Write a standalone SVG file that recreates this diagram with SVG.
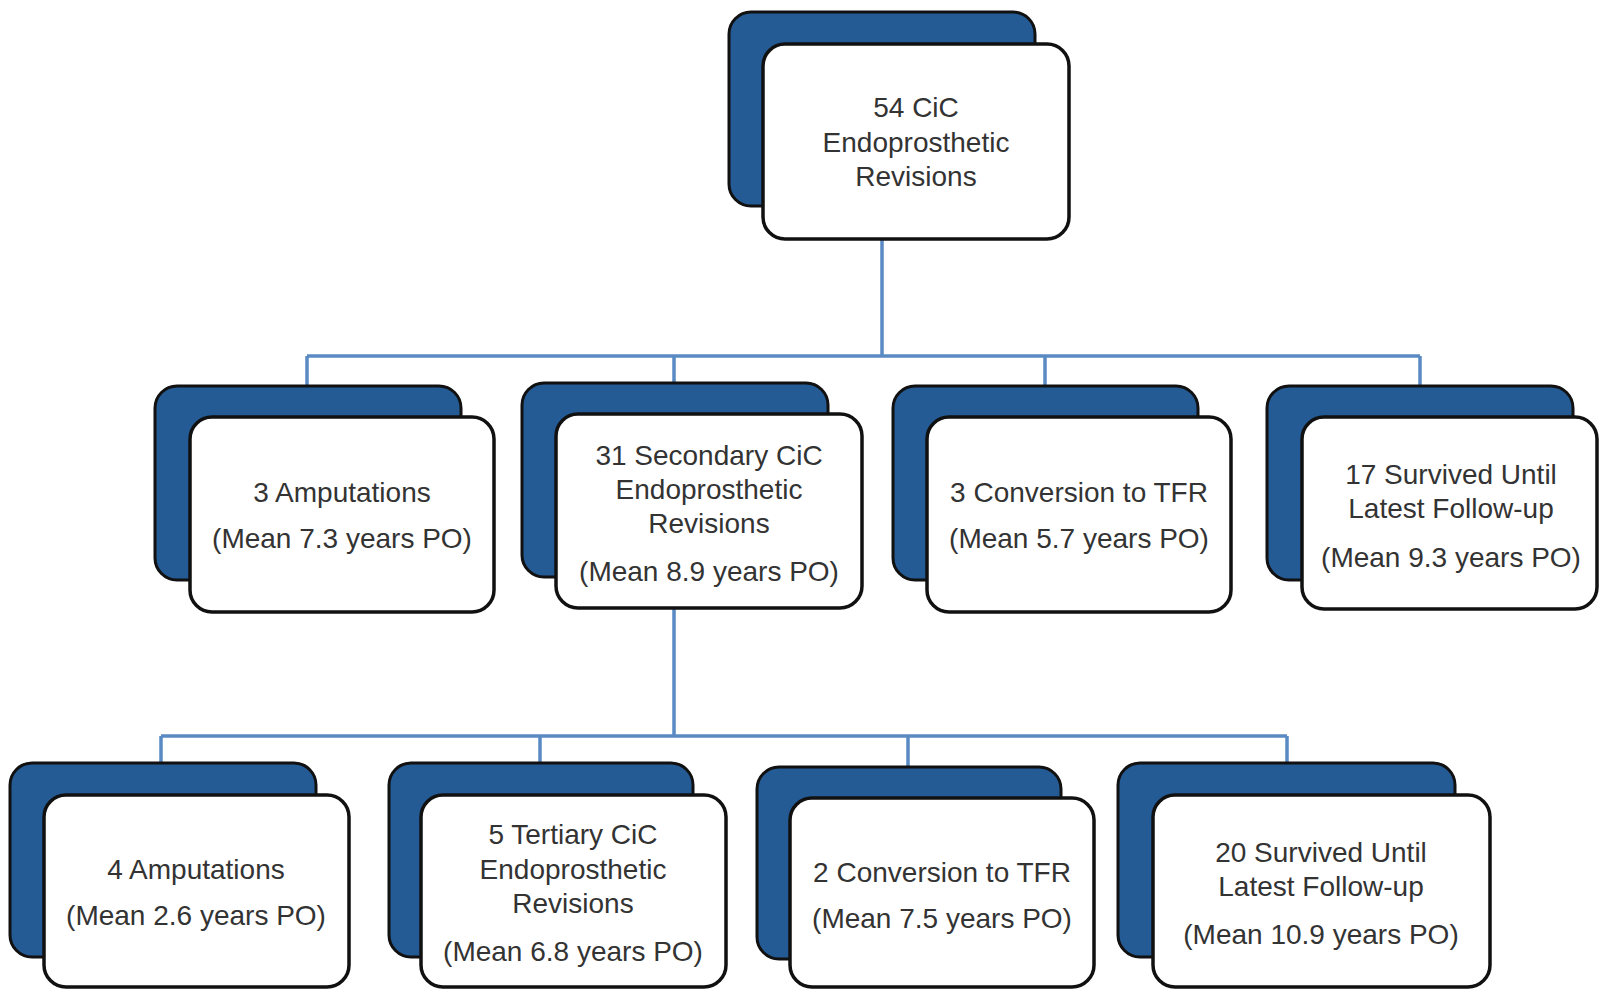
<svg xmlns="http://www.w3.org/2000/svg" width="1599" height="992" viewBox="0 0 1599 992">
<style>
.back{fill:#245b95;stroke:#111;stroke-width:3}
.front{fill:#fff;stroke:#111;stroke-width:3.5}
.conn{fill:none;stroke:#5a8ac4;stroke-width:3.5}
text{font-family:"Liberation Sans",Arial,sans-serif;font-size:28px;fill:#333;text-anchor:middle}
</style>
<rect width="1599" height="992" fill="#fff"/>
<g id="connectors">
<path class="conn" d="M882 240V356M307 356H1420M307 356V386M674 356V383M1045 356V386M1420 356V386"/>
<path class="conn" d="M674 608V736M161 736H1287M161 736V763M540 736V763M908 736V767M1287 736V763"/>
</g>
<g id="n0">
<rect class="back" x="729" y="12" width="306" height="194" rx="22"/>
<rect class="front" x="763" y="44" width="306" height="195" rx="22"/>
<text x="916" y="117">54 CiC</text>
<text x="916" y="152">Endoprosthetic</text>
<text x="916" y="186">Revisions</text>
</g>
<g id="n1">
<rect class="back" x="155" y="386" width="306" height="194" rx="22"/>
<rect class="front" x="190" y="417" width="304" height="195" rx="22"/>
<text x="342" y="502">3 Amputations</text>
<text x="342" y="548">(Mean 7.3 years PO)</text>
</g>
<g id="n2">
<rect class="back" x="522" y="383" width="306" height="194" rx="22"/>
<rect class="front" x="556" y="414" width="306" height="194" rx="22"/>
<text x="709" y="465">31 Secondary CiC</text>
<text x="709" y="499">Endoprosthetic</text>
<text x="709" y="533">Revisions</text>
<text x="709" y="581">(Mean 8.9 years PO)</text>
</g>
<g id="n3">
<rect class="back" x="893" y="386" width="305" height="194" rx="22"/>
<rect class="front" x="927" y="417" width="304" height="195" rx="22"/>
<text x="1079" y="502">3 Conversion to TFR</text>
<text x="1079" y="548">(Mean 5.7 years PO)</text>
</g>
<g id="n4">
<rect class="back" x="1267" y="386" width="306" height="194" rx="22"/>
<rect class="front" x="1302" y="417" width="295" height="192" rx="22"/>
<text x="1451" y="484">17 Survived Until</text>
<text x="1451" y="518">Latest Follow-up</text>
<text x="1451" y="567">(Mean 9.3 years PO)</text>
</g>
<g id="n5">
<rect class="back" x="10" y="763" width="306" height="194" rx="22"/>
<rect class="front" x="44" y="795" width="305" height="192" rx="22"/>
<text x="196" y="879">4 Amputations</text>
<text x="196" y="925">(Mean 2.6 years PO)</text>
</g>
<g id="n6">
<rect class="back" x="389" y="763" width="304" height="194" rx="22"/>
<rect class="front" x="421" y="795" width="305" height="192" rx="22"/>
<text x="573" y="844">5 Tertiary CiC</text>
<text x="573" y="879">Endoprosthetic</text>
<text x="573" y="913">Revisions</text>
<text x="573" y="961">(Mean 6.8 years PO)</text>
</g>
<g id="n7">
<rect class="back" x="757" y="767" width="304" height="192" rx="22"/>
<rect class="front" x="790" y="798" width="304" height="189" rx="22"/>
<text x="942" y="882">2 Conversion to TFR</text>
<text x="942" y="928">(Mean 7.5 years PO)</text>
</g>
<g id="n8">
<rect class="back" x="1118" y="763" width="337" height="194" rx="22"/>
<rect class="front" x="1153" y="795" width="337" height="192" rx="22"/>
<text x="1321" y="862">20 Survived Until</text>
<text x="1321" y="896">Latest Follow-up</text>
<text x="1321" y="944">(Mean 10.9 years PO)</text>
</g>
</svg>
